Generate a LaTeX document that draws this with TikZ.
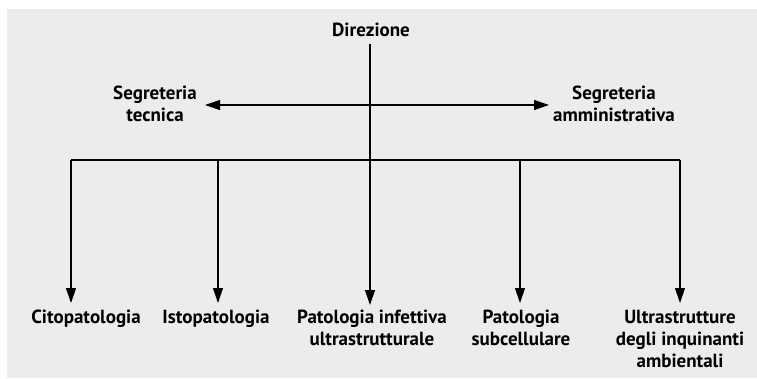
\documentclass[tikz,border=0pt]{standalone}
\usepackage{fontspec}
\setmainfont{PT Sans}
\usetikzlibrary{arrows.meta}
\definecolor{bg}{HTML}{EBECEC}
\begin{document}
\begin{tikzpicture}[x=1pt,y=-1pt,
  lbl/.style={font=\bfseries\fontsize{19}{22}\selectfont, align=center, inner sep=0pt, anchor=north},
  conn/.style={line width=1.1pt, black},
  arr/.style={conn, -{Triangle[length=15pt,width=10pt]}},
  darr/.style={conn, {Triangle[length=15pt,width=10pt]}-{Triangle[length=15pt,width=10pt]}}]
\useasboundingbox (0,0) rectangle (757,378);
\fill[bg] (7,9) rectangle (757,378);
\node[lbl] (dir) at (371,23) {Direzione};
\node[lbl] (st) at (155,86) {Segreteria\\tecnica};
\node[lbl] (sa) at (614,86) {Segreteria\\amministrativa};
\node[lbl] (cito) at (86,310) {Citopatologia};
\node[lbl] (isto) at (216,310) {Istopatologia};
\node[lbl] (pat) at (372,310) {Patologia infettiva\\ultrastrutturale};
\node[lbl] (sub) at (521,310) {Patologia\\subcellulare};
\node[lbl] (ultra) at (680,310) {Ultrastrutture\\degli inquinanti\\ambientali};
\coordinate (top) at (370,44);
\coordinate (b1) at (71,160);
\coordinate (b2) at (218,160);
\coordinate (b3) at (370,160);
\coordinate (b4) at (520,160);
\coordinate (b5) at (680,160);
\coordinate (al) at (205,105);
\coordinate (ar) at (549,105);
\draw[conn] (b1) -- (b5);
\draw[arr] (top) -- (b3 |- 0,305);
\draw[darr] (al) -- (ar);
\draw[arr] (b1) -- (b1 |- 0,303);
\draw[arr] (b2) -- (b2 |- 0,303);
\draw[arr] (b4) -- (b4 |- 0,303);
\draw[arr] (b5) -- (b5 |- 0,303);
\end{tikzpicture}
\end{document}
